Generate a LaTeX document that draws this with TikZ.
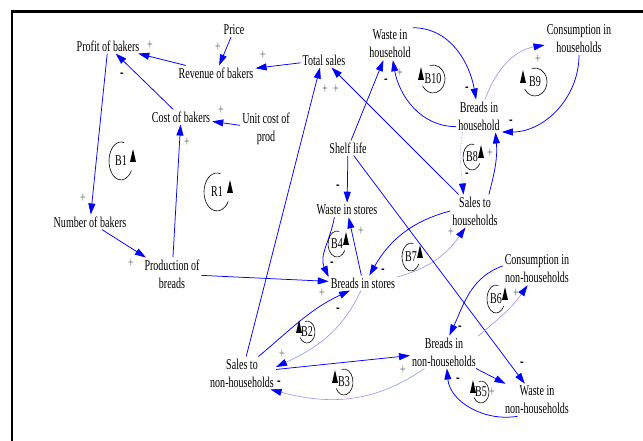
\documentclass[tikz,border=0pt]{standalone}
\usepackage{fontspec}
\setmainfont{Liberation Serif}[FakeStretch=0.67]
\usetikzlibrary{arrows.meta}
\tikzset{
  var/.style={align=center, inner sep=2pt, font=\fontsize{15}{18}\selectfont},
  link/.style={draw=blue, line width=0.75pt, -{Triangle[length=11pt,width=7pt]}},
  weak/.style={link, draw=blue!45, line width=0.55pt, -{Triangle[length=11pt,width=7pt,color=blue]}},
  plus/.style={text=black!60, inner sep=0pt, font=\fontsize{15}{15}\selectfont},
  minus/.style={inner sep=0pt, font=\bfseries\fontsize{16}{16}\selectfont},
  loopline/.style={line width=0.6pt},
  looplab/.style={inner sep=0pt, font=\fontsize{15}{18}\selectfont},
}
\begin{document}
\begin{tikzpicture}[x=1pt, y=1pt]
      \useasboundingbox (0,0) rectangle (643,441);
      \draw[line width=2.5pt] (12,0) -- (12,429.7) -- (643,429.7);
      \draw[every node/.style={var}]
        (234,411) node (price){Price}
        (108,395) node (profit){Profit of bakers}
        (216,368) node (revenue){Revenue of bakers}
        (324,381) node (totsales){Total sales}
        (181,324) node (cost){Cost of bakers}
        (266,312) node (unitcost){Unit cost of\\prod}
        (90,219) node (nbakers){Number of bakers}
        (172,167) node (prod){Production of\\breads}
        (348,293) node (shelf){Shelf life}
        (347,231) node (wstores){Waste in stores}
        (363,158) node (bstores){Breads in stores}
        (475,230) node (saleshh){Sales to\\households}
        (390,397) node (wastehh){Waste in\\household}
        (479,325) node (breadshh){Breads in\\household}
        (579,402) node (conshh){Consumption in\\households}
        (537,172) node (consnh){Consumption in\\non-households}
        (444,89) node (breadsnh){Breads in\\non-households}
        (537,41) node (wastenh){Waste in\\non-households}
        (242,68) node (salesnh){Sales to\\non-households};
      \begin{scope}[link]
        \draw (price) to (revenue);
        \draw (revenue) to (profit);
        \draw (totsales) to (revenue);
        \draw (cost) to (profit);
        \draw (unitcost) to (cost);
        \draw (prod) to (cost);
        \draw (profit) to (nbakers);
        \draw (nbakers) to (prod);
        \draw (prod) to (bstores);
        \draw (salesnh) to ([xshift=-4pt]totsales.south);
        \draw (saleshh) to (totsales);
        \draw (shelf) to (wastehh);
        \draw (breadshh.205) to[out=180,in=-80] (wastehh);
        \draw (wastehh.north east) to[out=0,in=100] (breadshh);
        \draw[weak] (breadshh.70) to[out=70,in=190] (conshh);
        \draw (conshh) to[out=-90,in=0] (breadshh.-35);
        \draw[weak, densely dotted] (breadshh.-135) to[out=-100,in=95] (saleshh.125);
        \draw (saleshh.50) to[out=75,in=-85] (breadshh.-45);
        \draw (saleshh.180) to[out=195,in=60] (bstores.50);
        \draw[weak] (bstores.10) to[out=15,in=-125] (saleshh.-120);
        \draw (shelf) to (wstores);
        \draw (shelf) to (wastenh);
        \draw (bstores) to (wstores);
        \draw (wstores.-150) to[out=-100,in=115] (bstores.170);
        \draw (salesnh.45) to[out=40,in=205] (bstores.-150);
        \draw[weak] (bstores.-105) to[out=-115,in=25] (salesnh.10);
        \draw (salesnh) to (breadsnh);
        \draw[weak] (breadsnh.-140) to[out=-145,in=-15] (salesnh.-30);
        \draw[weak] (breadsnh.25) to[out=40,in=-125] (consnh.-120);
        \draw (consnh.175) to[out=200,in=65] (breadsnh.72);
        \draw (breadsnh) to (wastenh);
        \draw (wastenh.-140) to[out=190,in=-85] (breadsnh.-80);
      \end{scope}
      % polarities
      \foreach [count=\i] \x/\y in {218/394,150/396,263/386,221/331,187/299,83/243,131/178,
          322/148,325/352,336/352,400/368,538/382,490/288,361/210,451/209,282/87,403/71,516/148,492/49}
        \node[plus] (plus\i) at (\x,\y) {+};
      \foreach [count=\i] \x/\y in {122/366,386/360,467/352,511/319,467/266,338/254,332/177,
          383/170,338/131,279/58,460/113,522/77,458/61}
        \node[minus] (minus\i) at (\x,\y) {-};
      % loops, marker on the right
      \foreach \lab/\cx/\cy/\rx/\ry in {B1/121/280/12/19,R1/217/249/13/19,B8/472/284/9/13,
          B4/337/197/9/13,B7/411/184/9/14,B6/496/142/9/14}{
        \draw[loopline] (\cx,\cy) ++(75:{\rx} and {\ry}) arc[start angle=75, end angle=330, x radius=\rx, y radius=\ry];
        \fill (\cx+\rx-3,\cy-1) -- ++(6,0) -- ++(-3,13) -- cycle;
        \node[looplab] (\lab) at (\cx,\cy) {\lab};
      }
      % loops, marker on the left
      \foreach \lab/\cx/\cy/\rx/\ry in {B10/433/362/12/14,B9/535/359/12/14,B2/307/109/8/11,
          B3/344/59/9/13,B5/481/49/8/11}{
        \draw[loopline] (\cx,\cy) ++(105:{\rx} and {\ry}) arc[start angle=105, end angle=-150, x radius=\rx, y radius=\ry];
        \fill (\cx-\rx-3,\cy-1) -- ++(6,0) -- ++(-3,13) -- cycle;
        \node[looplab] (\lab) at (\cx,\cy) {\lab};
      }
    \end{tikzpicture}
\end{document}
